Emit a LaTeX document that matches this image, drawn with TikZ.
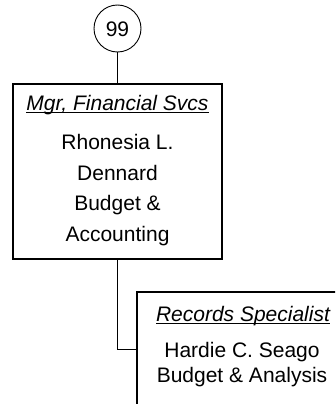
\documentclass[tikz,border=0pt]{standalone}
\usepackage{fontspec}
\setmainfont{Liberation Sans}
\newcommand\myul[1]{\setbox0\hbox{#1}\rlap{\rule[-3.3pt]{\wd0}{1.3pt}}\box0}
\begin{document}
\begin{tikzpicture}[x=1pt,y=-1pt,
  box/.style={draw,line width=1.1pt,rectangle,inner sep=0pt},
  conn/.style={draw,line width=1pt},
  txt/.style={anchor=base,inner sep=0pt,font=\fontsize{21}{25}\selectfont}]
\clip (0,0) rectangle (335,404);
\useasboundingbox (0,0) rectangle (335,404);
\node[draw,line width=0.9pt,circle,minimum size=47pt,inner sep=0pt] (c) at (117.5,28.5) {};
\node[txt,anchor=center] (cn) at (117.5,29.5) {99};
\node[box,minimum width=209pt,minimum height=175pt] (b1) at (117.5,171.5) {};
\node[box,minimum width=210pt,minimum height=114pt] (b2) at (242,349) {};
\draw[conn] (c) -- (b1);
\draw[conn] (b1.south) |- (b2.west);
\node[txt] (t1) at (117.5,110) {\myul{\itshape Mgr, Financial Svcs}};
\node[txt] (n1) at (117.5,149) {Rhonesia L.};
\node[txt] (n2) at (117.5,180) {Dennard};
\node[txt] (n3) at (117.5,210) {Budget \&};
\node[txt] (n4) at (117.5,241) {Accounting};
\node[txt] (t2) at (243,321) {\myul{\itshape Records Specialist}};
\node[txt] (m1) at (242,357) {Hardie C. Seago};
\node[txt] (m2) at (242,382) {Budget \& Analysis};
\end{tikzpicture}
\end{document}
